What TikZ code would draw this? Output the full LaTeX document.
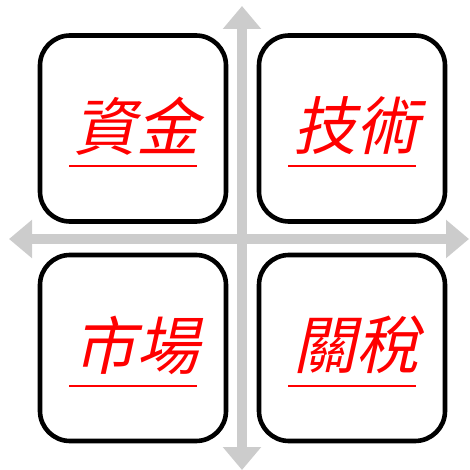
\documentclass[tikz,border=0pt]{standalone}
\usepackage{fontspec}
\newfontfamily\cjkit[FakeSlant=0.22]{Noto Sans CJK TC}
\usetikzlibrary{arrows.meta}
\definecolor{axisgray}{RGB}{204,204,204}
\tikzset{
  quadbox/.style={draw=black, line width=4.6pt, rounded corners=30pt, fill=white,
    minimum width=186pt, minimum height=186pt, inner sep=0pt},
  quadtext/.style={text=red, font=\cjkit\fontsize{63}{63}\selectfont, inner sep=0pt},
  uline/.style={draw=red, line width=2pt},
  axis/.style={draw=axisgray, line width=10pt,
    {Triangle[width=37pt,length=23pt]}-{Triangle[width=37pt,length=23pt]}}
}
\begin{document}
\begin{tikzpicture}[x=1pt,y=-1pt]
\useasboundingbox (0,0) rectangle (469,470);
% axes
\coordinate (vtop) at (242,6);
\coordinate (vbot) at (242,470);
\coordinate (hleft) at (9,239);
\coordinate (hright) at (469,239);
\draw[axis] (vbot) -- (vtop);
\draw[axis] (hleft) -- (hright);
% boxes
\node[quadbox] (b1) at (133,128.5) {};
\node[quadbox] (b2) at (352,128.5) {};
\node[quadbox] (b3) at (133,348) {};
\node[quadbox] (b4) at (352,348) {};
% texts
\node[quadtext] (t1) at (136,126) {資金};
\node[quadtext] (t2) at (356,126) {技術};
\node[quadtext] (t3) at (136,345) {市場};
\node[quadtext] (t4) at (356,345) {關稅};
% underlines
\coordinate (u1a) at (69,166);  \coordinate (u1b) at (197,166);
\coordinate (u2a) at (288,166); \coordinate (u2b) at (416,166);
\coordinate (u3a) at (69,386);  \coordinate (u3b) at (197,386);
\coordinate (u4a) at (288,386); \coordinate (u4b) at (416,386);
\draw[uline] (u1a) -- (u1b);
\draw[uline] (u2a) -- (u2b);
\draw[uline] (u3a) -- (u3b);
\draw[uline] (u4a) -- (u4b);
\end{tikzpicture}
\end{document}
